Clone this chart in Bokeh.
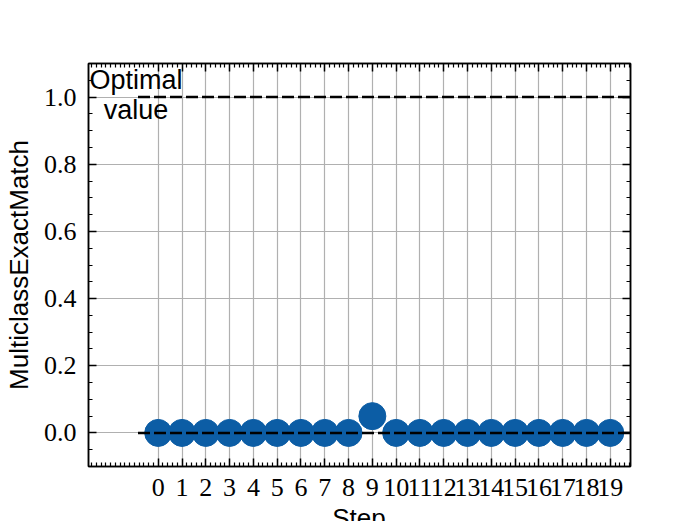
from bokeh.plotting import figure
from bokeh.models import (FixedTicker, LinearAxis, Label, Range1d, PrintfTickFormatter, Div)
from bokeh.layouts import column
from bokeh.embed import file_html
from bokeh.resources import INLINE

steps = list(range(20))
values = [0.0, 0.0, 0.0, 0.0, 0.0, 0.0, 0.0, 0.0, 0.0, 0.05,
          0.0, 0.0, 0.0, 0.0, 0.0, 0.0, 0.0, 0.0, 0.0, 0.0]
y_ticks = [0.0, 0.2, 0.4, 0.6, 0.8, 1.0]
optimal_value = 1.0
baseline_value = 0.0
x_label = "Step"
y_label = "MulticlassExactMatch"
optimal_text = "Optimal\nvalue"

X0, X1 = -2.93, 19.85
Y0, Y1 = -0.1, 1.1

p = figure(width=684, height=509, output_backend="svg", toolbar_location=None,
           x_range=Range1d(X0, X1), y_range=Range1d(Y0, Y1),
           x_axis_location=None, y_axis_location=None,
           min_border_left=88, min_border_right=54, min_border_top=63,
           min_border_bottom=43)
p.background_fill_color = "white"
p.border_fill_color = "white"
p.outline_line_color = "black"
p.outline_line_width = 1.5

x_minor = [round(-2.8 + 0.2 * i, 1) for i in range(114)]
x_minor = [v for v in x_minor if v <= X1 and not (abs(v - round(v)) < 1e-9 and round(v) >= 0)]
y_minor = [round(-0.1 + 0.05 * i, 2) for i in range(25)]
y_minor = [v for v in y_minor if v not in y_ticks]

xt = FixedTicker(ticks=steps, minor_ticks=x_minor)
yt = FixedTicker(ticks=y_ticks, minor_ticks=y_minor)

def style(ax, labels=True):
    ax.axis_line_color = "black"
    ax.axis_line_width = 1.5
    ax.major_tick_line_color = "black"
    ax.major_tick_line_width = 1.5
    ax.minor_tick_line_color = "black"
    ax.minor_tick_line_width = 1.2
    ax.major_tick_in = 8
    ax.major_tick_out = 0
    ax.minor_tick_in = 4
    ax.minor_tick_out = 0
    ax.major_label_text_font = "Liberation Serif"
    ax.major_label_text_font_size = "26px"
    ax.major_label_text_color = "black"
    if not labels:
        ax.major_label_text_color = None
        ax.major_label_standoff = 0

bottom = LinearAxis(ticker=xt)
style(bottom)
bottom.major_label_standoff = 12
top = LinearAxis(ticker=xt)
style(top, labels=False)
left = LinearAxis(ticker=yt, formatter=PrintfTickFormatter(format="%.1f"))
style(left)
left.major_label_standoff = 12
left.axis_label = y_label
left.axis_label_text_font = "Liberation Sans"
left.axis_label_text_font_size = "26px"
left.axis_label_text_font_style = "normal"
left.axis_label_text_color = "black"
left.axis_label_standoff = 7
right = LinearAxis(ticker=yt)
style(right, labels=False)

p.add_layout(bottom, "below")
p.add_layout(top, "above")
p.add_layout(left, "left")
p.add_layout(right, "right")

p.xgrid.ticker = xt
p.ygrid.ticker = yt
p.xgrid.grid_line_color = "#b0b0b0"
p.ygrid.grid_line_color = "#b0b0b0"
p.xgrid.grid_line_width = 1.2
p.ygrid.grid_line_width = 1.2

p.scatter(steps, values, size=27, color="#0C5DA5", line_color="#0C5DA5")

p.segment(x0=[-0.85, -0.85], y0=[optimal_value, baseline_value],
          x1=[X1 + 1, X1 + 1], y1=[optimal_value, baseline_value],
          line_color="black", line_width=2.5, line_dash="12 4")

p.add_layout(Label(x=-0.93, y=1.006, text=optimal_text, text_align="center",
                   text_baseline="middle", text_font="Liberation Sans",
                   text_font_size="27px", text_line_height=1.02, text_color="black"))

xlab = Div(text=x_label, width=684, height=16,
           styles={"font-family": "Liberation Sans", "font-size": "26px",
                   "line-height": "26px", "text-align": "center",
                   "padding-left": "24px", "box-sizing": "border-box",
                   "margin-top": "-4px", "overflow": "hidden", "color": "black"})

layout = column(p, xlab, spacing=0)
open("out.html", "w").write(file_html(layout, INLINE))
